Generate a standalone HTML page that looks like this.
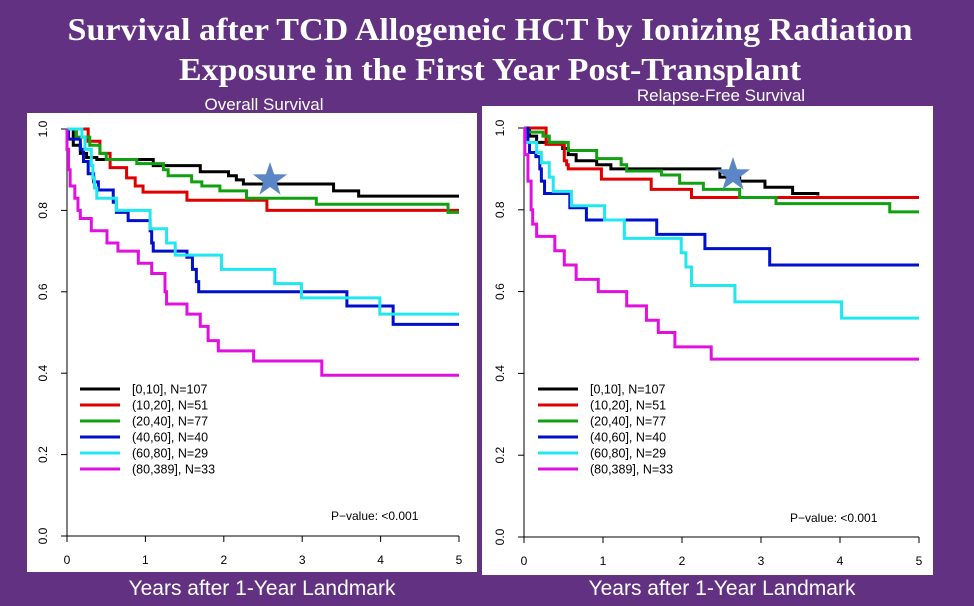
<!DOCTYPE html>
<html><head><meta charset="utf-8"><style>
html,body{margin:0;padding:0;background:#633182;}
svg{display:block;}
</style></head><body>
<svg id="root" width="974" height="606" xmlns="http://www.w3.org/2000/svg">
<rect x="0" y="0" width="974" height="606" fill="#633182"/>
<text x="490" y="40" text-anchor="middle" font-family="Liberation Serif, serif" font-weight="bold" font-size="32" fill="#fff" textLength="845" lengthAdjust="spacingAndGlyphs">Survival after TCD Allogeneic HCT by Ionizing Radiation</text>
<text x="490" y="80" text-anchor="middle" font-family="Liberation Serif, serif" font-weight="bold" font-size="32" fill="#fff" textLength="622" lengthAdjust="spacingAndGlyphs">Exposure in the First Year Post-Transplant</text>
<text x="264" y="110" text-anchor="middle" font-family="Liberation Sans, sans-serif" font-size="17" fill="#fff">Overall Survival</text>
<text x="721" y="101" text-anchor="middle" font-family="Liberation Sans, sans-serif" font-size="17" fill="#fff">Relapse-Free Survival</text>
<g id="p0"></g><g id="p1"></g>
<text x="262" y="595" text-anchor="middle" font-family="Liberation Sans, sans-serif" font-size="21" fill="#fff">Years after 1-Year Landmark</text>
<text x="722" y="595" text-anchor="middle" font-family="Liberation Sans, sans-serif" font-size="21" fill="#fff">Years after 1-Year Landmark</text>
</svg>
<script>
const groups = ["[0,10], N=107","(10,20], N=51","(20,40], N=77","(40,60], N=40","(60,80], N=29","(80,389], N=33"];
const colors = ["#000000","#e00000","#10a010","#0010c8","#20e8f0","#e010e0"];
const xTicks = [0,1,2,3,4,5];
const yTicks = [0.0,0.2,0.4,0.6,0.8,1.0];
// Overall survival: step times and survival values
const osT = [
 [0,0.08,0.17,0.25,0.38,1.1,1.7,2.06,2.16,2.25,3.4,3.72,5],
 [0,0.27,0.42,0.55,0.76,0.87,0.97,1.53,2.55,5],
 [0,0.12,0.29,0.42,0.5,0.89,1.23,1.29,1.59,1.72,1.95,2.29,3.18,4.86,5],
 [0,0.02,0.17,0.21,0.27,0.34,0.4,0.59,0.63,0.78,1.06,1.08,1.1,1.53,1.6,1.65,1.68,2.29,3.57,4.16,5],
 [0,0.19,0.23,0.31,0.33,0.35,0.38,0.63,1.06,1.27,1.38,1.97,2.65,2.99,3.99,5],
 [0,0.0,0.02,0.04,0.1,0.14,0.17,0.31,0.51,0.65,0.91,1.08,1.25,1.27,1.53,1.7,1.8,1.93,2.38,3.25,5]
];
const osS = [
 [1,0.96,0.94,0.93,0.925,0.91,0.895,0.885,0.875,0.865,0.848,0.835,0.835],
 [1,0.97,0.94,0.905,0.88,0.86,0.845,0.825,0.8,0.8],
 [1,0.98,0.96,0.94,0.925,0.915,0.9,0.885,0.87,0.86,0.848,0.83,0.815,0.795,0.795],
 [1,0.975,0.95,0.92,0.89,0.87,0.85,0.82,0.795,0.775,0.75,0.72,0.7,0.685,0.655,0.625,0.6,0.6,0.565,0.52,0.52],
 [1,0.98,0.95,0.91,0.88,0.855,0.83,0.8,0.755,0.72,0.69,0.655,0.62,0.585,0.545,0.545],
 [1,0.95,0.9,0.86,0.83,0.8,0.78,0.75,0.72,0.7,0.67,0.645,0.6,0.57,0.545,0.515,0.48,0.455,0.43,0.395,0.395]
];
// Relapse-free survival
const rfsT = [
 [0,0.07,0.16,0.49,0.56,0.66,0.92,1.1,2.48,2.73,3.05,3.4,3.72],
 [0,0.28,0.51,0.54,0.56,0.98,1.61,2.12,5],
 [0,0.03,0.24,0.32,0.56,0.92,1.23,1.3,1.74,1.97,2.27,2.73,3.19,4.63,5],
 [0,0.05,0.07,0.15,0.2,0.22,0.26,0.58,0.79,1.68,2.29,3.11,5],
 [0,0.01,0.16,0.22,0.32,0.37,0.6,1.02,1.27,1.99,2.05,2.12,2.67,4.02,5],
 [0,0.01,0.05,0.09,0.11,0.16,0.39,0.51,0.66,0.94,1.3,1.55,1.7,1.91,2.37,5]
];
const rfsS = [
 [1,0.98,0.965,0.95,0.935,0.92,0.91,0.9,0.88,0.87,0.855,0.84,0.835],
 [1,0.96,0.92,0.91,0.9,0.875,0.85,0.83,0.83],
 [1,0.99,0.98,0.965,0.945,0.925,0.91,0.895,0.885,0.865,0.85,0.83,0.815,0.795,0.795],
 [1,0.965,0.94,0.93,0.9,0.87,0.84,0.805,0.775,0.74,0.705,0.665,0.665],
 [1,0.965,0.94,0.915,0.88,0.845,0.81,0.775,0.73,0.695,0.66,0.615,0.575,0.535,0.535],
 [1,0.935,0.87,0.8,0.765,0.735,0.7,0.665,0.63,0.6,0.565,0.53,0.5,0.465,0.435,0.435]
];
const NS="http://www.w3.org/2000/svg";
function mk(tag, attrs, parent){const e=document.createElementNS(NS,tag);for(const k in attrs)e.setAttribute(k,attrs[k]);parent.appendChild(e);return e;}
const panels=[
 {g:'p0',box:[27,113,450,459],x0:67,x1:459,y1:129,y0:536,T:osT,S:osS,star:[270,180],leg:[80,120,132,389],pv:[331,520],key:'os'},
 {g:'p1',box:[482,106,451,469],x0:524,x1:919,y1:128,y0:537,T:rfsT,S:rfsS,star:[733,175],leg:[538,578,590,389],pv:[790,522],key:'rfs'}
];
panels.forEach(p=>{
 const g=document.getElementById(p.g);
 
 
 const sx=t=>p.x0+(p.x1-p.x0)*t/5;
 const sy=v=>p.y0-(p.y0-p.y1)*v;
 const bg=mk('rect',{x:p.box[0],y:p.box[1],width:p.box[2],height:p.box[3],fill:'#fff'},g);
 
 
 const ya=mk('line',{x1:p.x0,y1:sy(0),x2:p.x0,y2:sy(1),stroke:'#000','stroke-width':1},g);
 
 
 const xa=mk('line',{x1:sx(0),y1:p.y0,x2:sx(5),y2:p.y0,stroke:'#000','stroke-width':1},g);
 
 
 yTicks.forEach(v=>{
  mk('line',{x1:p.x0-6,y1:sy(v),x2:p.x0,y2:sy(v),stroke:'#000'},g);
  const t=mk('text',{x:0,y:0,transform:`translate(${p.x0-20},${sy(v)}) rotate(-90)`,'text-anchor':'middle','font-family':'Liberation Sans, sans-serif','font-size':12},g);
  t.textContent=v.toFixed(1);
  
  
 });
 xTicks.forEach(v=>{
  mk('line',{x1:sx(v),y1:p.y0,x2:sx(v),y2:p.y0+6,stroke:'#000'},g);
  const t=mk('text',{x:sx(v),y:p.y0+28,'text-anchor':'middle','font-family':'Liberation Sans, sans-serif','font-size':12},g);
  t.textContent=v;
  
  
 });
 p.T.forEach((ts,i)=>{
  const ss=p.S[i];
  let d=`M${sx(ts[0])},${sy(ss[0])}`;
  for(let k=1;k<ts.length;k++){d+=` H${sx(ts[k])} V${sy(ss[k])}`;}
  const path=mk('path',{d:d,fill:'none',stroke:colors[i],'stroke-width':3},g);
  
  
 });
 const [cx,cy]=p.star;let pts=[];
 for(let k=0;k<10;k++){const r=k%2?7:18;const a=-Math.PI/2+k*Math.PI/5;pts.push((cx+r*Math.cos(a)).toFixed(1)+','+(cy+r*Math.sin(a)).toFixed(1));}
 const st=mk('polygon',{points:pts.join(' '),fill:'#5b86c5'},g);
 
 
 groups.forEach((lab,i)=>{
  const y=p.leg[3]+i*16;
  const l=mk('line',{x1:p.leg[0],y1:y,x2:p.leg[1],y2:y,stroke:colors[i],'stroke-width':3},g);
  
  
  const t=mk('text',{x:p.leg[2],y:y+4.5,'font-family':'Liberation Sans, sans-serif','font-size':12.5},g);
  t.textContent=lab;
  
  
 });
 const pv=mk('text',{x:p.pv[0],y:p.pv[1],'font-family':'Liberation Sans, sans-serif','font-size':12},g);
 pv.textContent='P\u2212value: <0.001';
 
 
});
</script>
</body></html>
